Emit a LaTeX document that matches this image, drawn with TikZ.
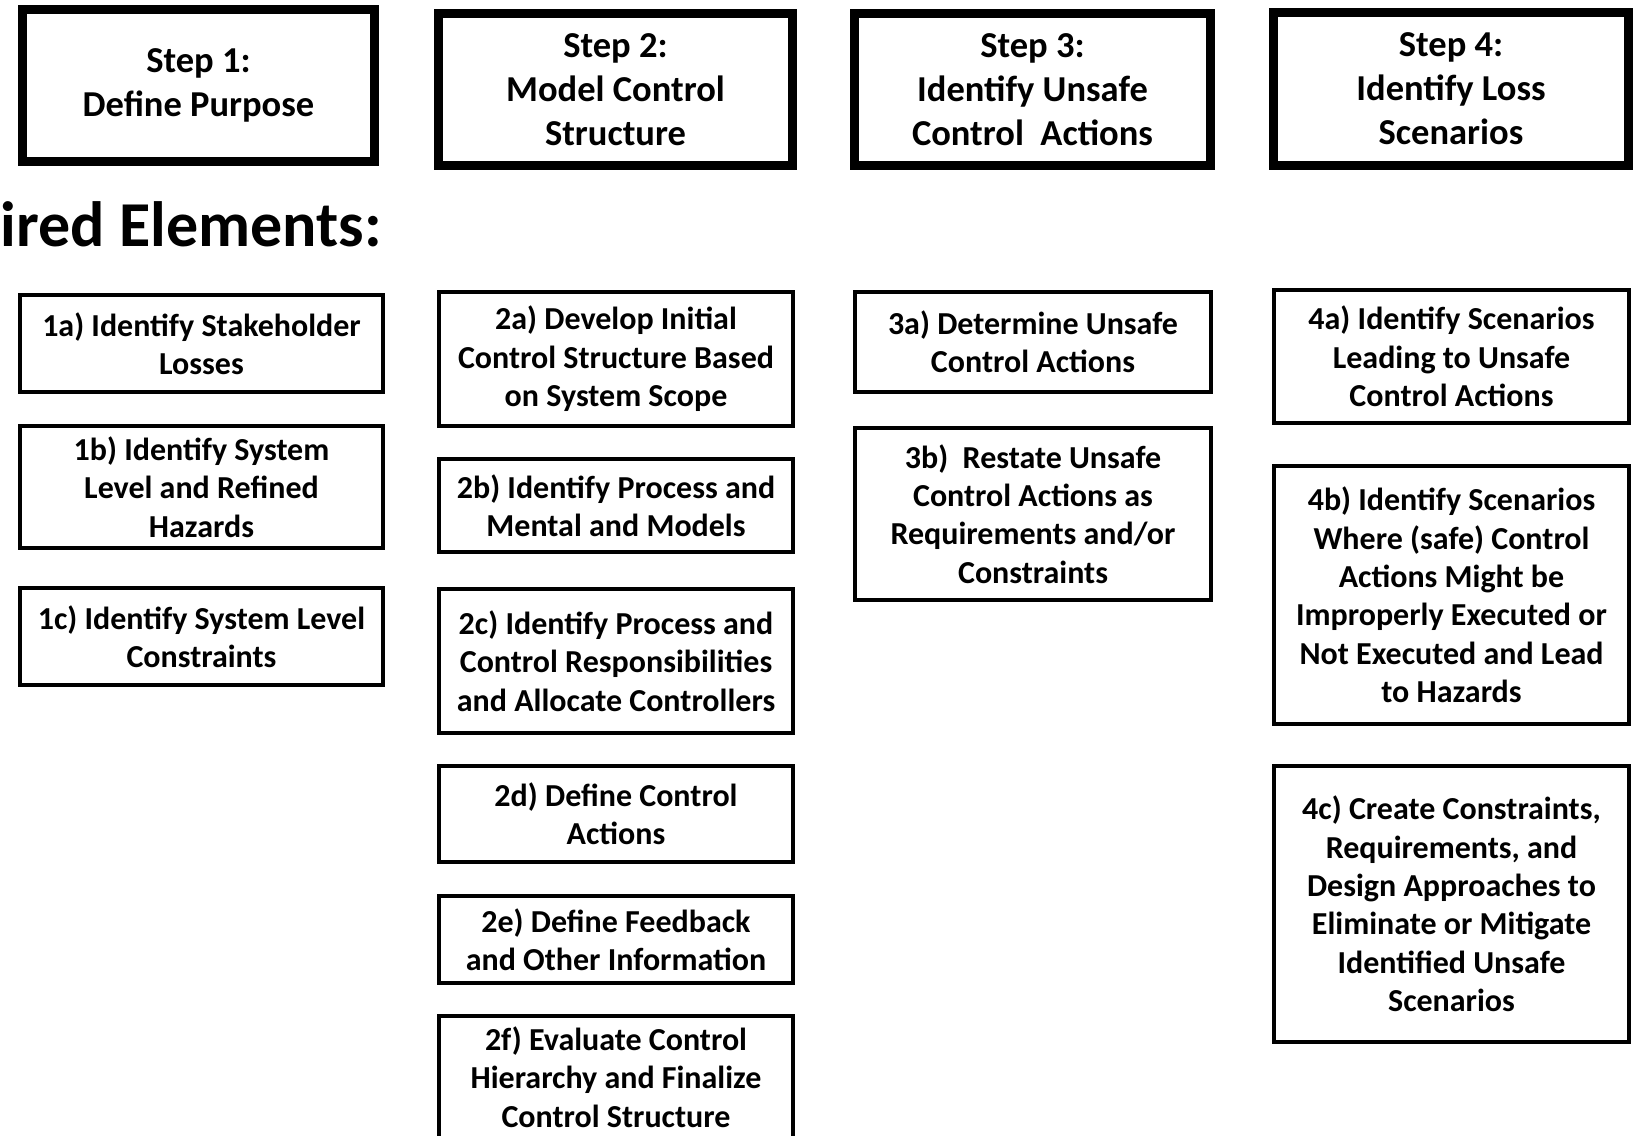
\documentclass[tikz,border=0pt]{standalone}
\usepackage{fontspec}
\setmainfont{Carlito}
\begin{document}
\begin{tikzpicture}[x=1pt,y=-1pt,
  stepbox/.style={draw=black,line width=9pt,fill=white,align=center,inner sep=0pt,
    font=\bfseries\fontsize{36.5}{44}\selectfont},
  elembox/.style={draw=black,line width=4pt,fill=white,align=center,inner sep=0pt,
    font=\bfseries\fontsize{32}{38.4}\selectfont},
  heading/.style={inner sep=0pt,font=\bfseries\fontsize{64}{70}\selectfont}]
\clip (0,0) rectangle (1640,1135);
\fill[white] (0,0) rectangle (1640,1135);
% step boxes
\node[stepbox,minimum width=352pt,minimum height=152pt] (s1) at (198.5,85.5) {Step 1:\\Define Purpose};
\node[stepbox,minimum width=354pt,minimum height=152pt] (s2) at (615.5,89.5) {Step 2:\\Model Control\\Structure};
\node[stepbox,minimum width=356pt,minimum height=152pt] (s3) at (1032.5,89.5) {Step 3:\\Identify Unsafe\\Control\ \ Actions};
\node[stepbox,minimum width=355pt,minimum height=153pt] (s4) at (1451,89) {Step 4:\\Identify Loss\\Scenarios};
% heading
\node[heading,anchor=base west] (head) at (0.5,246) {ired Elements:};
% column 1
\node[elembox,minimum width=363pt,minimum height=97pt] (e1a) at (201.5,343.5) {1a) Identify Stakeholder\\Losses};
\node[elembox,minimum width=363pt,minimum height=122pt] (e1b) at (201.5,487) {1b) Identify System\\Level and Refined\\Hazards};
\node[elembox,minimum width=363pt,minimum height=97pt] (e1c) at (201.5,636.5) {1c) Identify System Level\\Constraints};
% column 2
\node[elembox,minimum width=354pt,minimum height=134pt] (e2a) at (616,359) {2a) Develop Initial\\Control Structure Based\\on System Scope};
\node[elembox,minimum width=354pt,minimum height=93pt] (e2b) at (616,505.5) {2b) Identify Process and\\Mental and Models};
\node[elembox,minimum width=354pt,minimum height=144pt] (e2c) at (616,661) {2c) Identify Process and\\Control Responsibilities\\and Allocate Controllers};
\node[elembox,minimum width=354pt,minimum height=96pt] (e2d) at (616,814) {2d) Define Control\\Actions};
\node[elembox,minimum width=354pt,minimum height=87pt] (e2e) at (616,939.5) {2e) Define Feedback\\and Other Information};
\node[elembox,minimum width=354pt,minimum height=122pt] (e2f) at (616,1077) {2f) Evaluate Control\\Hierarchy and Finalize\\Control Structure};
% column 3
\node[elembox,minimum width=356pt,minimum height=100pt] (e3a) at (1033,342) {3a) Determine Unsafe\\Control Actions};
\node[elembox,minimum width=356pt,minimum height=172pt] (e3b) at (1033,514) {3b)\ \ Restate Unsafe\\Control Actions as\\Requirements and/or\\Constraints};
% column 4
\node[elembox,minimum width=355pt,minimum height=133pt] (e4a) at (1451.5,356.5) {4a) Identify Scenarios\\Leading to Unsafe\\Control Actions};
\node[elembox,minimum width=355pt,minimum height=258pt] (e4b) at (1451.5,595) {4b) Identify Scenarios\\Where (safe) Control\\Actions Might be\\Improperly Executed or\\Not Executed and Lead\\to Hazards};
\node[elembox,minimum width=355pt,minimum height=276pt] (e4c) at (1451.5,904) {4c) Create Constraints,\\Requirements, and\\Design Approaches to\\Eliminate or Mitigate\\Identified Unsafe\\Scenarios};
\end{tikzpicture}
\end{document}
